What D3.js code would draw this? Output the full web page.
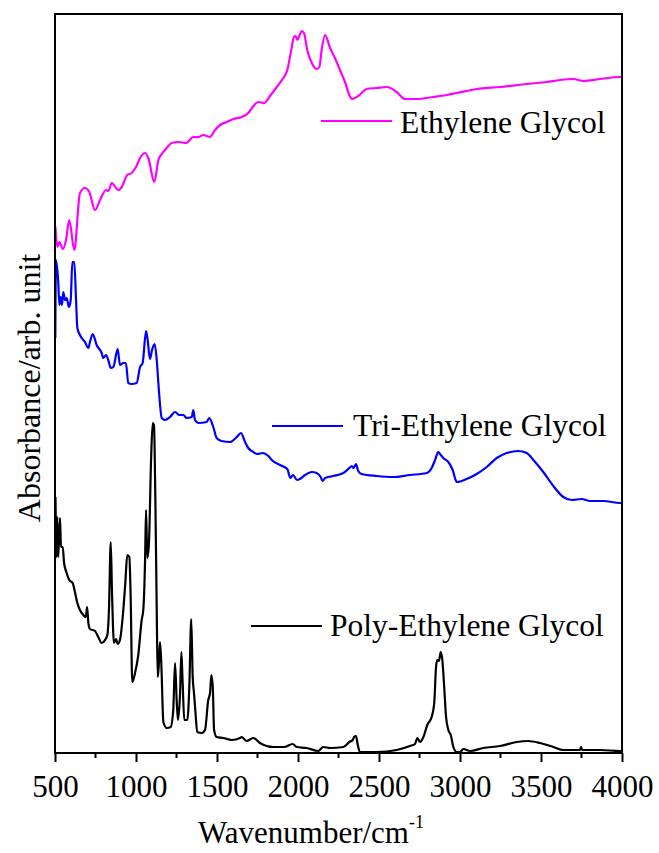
<!DOCTYPE html>
<html>
<head>
<meta charset="utf-8">
<script src="https://cdn.jsdelivr.net/npm/d3@7"></script>
<style>
  body { margin: 0; background: #fff; }
  svg { display: block; }
  text { font-family: "Liberation Serif", "Times New Roman", serif; fill: #000; }
</style>
</head>
<body>
<div id="chart"></div>
<script>
// FTIR spectra, [wavenumber cm^-1, absorbance arb. unit]
const egData = [
  [503, 526], [514, 506], [527, 511], [548, 504], [568, 513], [588, 533], [619, 503],
  [654, 560], [685, 565], [712, 561], [747, 543], [778, 553], [815, 563], [829, 562],
  [850, 570], [891, 563], [912, 566], [946, 578], [973, 580], [1000, 586], [1025, 595],
  [1056, 600], [1076, 595], [1113, 571], [1138, 593], [1159, 599], [1190, 605], [1220, 610],
  [1261, 611], [1309, 610], [1354, 616], [1385, 616], [1415, 618], [1457, 616], [1488, 623],
  [1519, 628], [1560, 631], [1601, 634], [1653, 636], [1693, 640], [1720, 646], [1755, 651],
  [1792, 650], [1827, 657], [1869, 666], [1909, 675], [1934, 683], [1955, 700], [1975, 716],
  [1986, 717], [1996, 713], [2008, 717], [2023, 722], [2037, 720], [2057, 703], [2085, 690],
  [2115, 684], [2132, 686], [2146, 703], [2167, 718], [2198, 705], [2228, 695], [2259, 683],
  [2290, 671], [2317, 658], [2332, 654], [2372, 657], [2424, 664], [2486, 665], [2548, 666],
  [2609, 661], [2661, 654], [2733, 654], [2835, 656], [2918, 658], [2980, 660], [3103, 664],
  [3247, 666], [3412, 669], [3535, 671], [3617, 673], [3700, 674], [3761, 672], [3864, 674],
  [3983, 676], [4000, 676]
];

const tegData = [
  [502, 415], [506, 493], [520, 471], [527, 448], [535, 456], [543, 448], [551, 461],
  [562, 453], [572, 455], [586, 446], [597, 453], [607, 491], [619, 491], [630, 453],
  [638, 425], [654, 418], [685, 411], [706, 405], [716, 411], [733, 419], [757, 408],
  [788, 400], [798, 395], [815, 398], [829, 393], [844, 385], [860, 386], [887, 404],
  [901, 388], [922, 390], [938, 390], [952, 370], [973, 369], [1004, 370], [1025, 386],
  [1041, 390], [1062, 422], [1072, 413], [1086, 394], [1099, 403], [1115, 409], [1128, 393],
  [1138, 370], [1159, 335], [1179, 333], [1210, 336], [1241, 341], [1267, 338], [1292, 338],
  [1313, 335], [1344, 336], [1354, 343], [1364, 333], [1385, 330], [1436, 331], [1452, 335],
  [1477, 326], [1498, 315], [1529, 312], [1580, 311], [1622, 316], [1648, 320], [1673, 311],
  [1693, 305], [1724, 301], [1749, 299], [1782, 300], [1817, 297], [1838, 293], [1889, 288],
  [1934, 284], [1953, 275], [1969, 278], [1994, 273], [2012, 274], [2043, 278], [2085, 281],
  [2115, 280], [2140, 276], [2152, 272], [2167, 275], [2218, 277], [2280, 280], [2317, 285],
  [2332, 287], [2342, 285], [2358, 289], [2372, 282], [2393, 279], [2486, 277], [2588, 276],
  [2691, 278], [2795, 280], [2825, 285], [2846, 293], [2866, 301], [2881, 298], [2897, 295],
  [2928, 291], [2955, 283], [2980, 271], [3041, 274], [3103, 279], [3165, 286], [3227, 295],
  [3288, 300], [3360, 302], [3412, 300], [3453, 293], [3514, 281], [3576, 267], [3638, 256],
  [3690, 253], [3751, 254], [3803, 252], [3885, 252], [3988, 250], [4000, 250]
];

const pegData = [
  [503, 256], [510, 196], [514, 236], [520, 196], [531, 235], [537, 206], [548, 206],
  [556, 190], [572, 180], [588, 173], [609, 170], [623, 161], [638, 150], [654, 143],
  [675, 138], [690, 136], [698, 146], [706, 130], [716, 124], [747, 122], [767, 116],
  [788, 110], [809, 113], [823, 118], [833, 143], [844, 211], [852, 160], [864, 110],
  [877, 114], [887, 109], [901, 113], [918, 136], [934, 170], [946, 198], [959, 196],
  [967, 156], [977, 71], [994, 80], [1014, 98], [1035, 133], [1045, 143], [1056, 193],
  [1062, 243], [1070, 195], [1080, 210], [1093, 293], [1103, 330], [1111, 328], [1119, 260],
  [1128, 143], [1134, 76], [1140, 86], [1148, 111], [1156, 90], [1169, 31], [1190, 25],
  [1214, 26], [1230, 43], [1241, 90], [1251, 53], [1259, 33], [1272, 60], [1280, 101],
  [1288, 70], [1298, 33], [1317, 33], [1329, 66], [1341, 134], [1350, 76], [1358, 60],
  [1366, 43], [1378, 21], [1406, 20], [1426, 23], [1446, 53], [1457, 60], [1465, 78],
  [1474, 66], [1482, 23], [1498, 16], [1539, 15], [1591, 13], [1642, 15], [1652, 16],
  [1683, 12], [1724, 15], [1765, 10], [1848, 6], [1915, 6], [1967, 9], [1992, 6],
  [2054, 5], [2125, 2], [2156, 6], [2198, 5], [2280, 6], [2317, 11], [2338, 13],
  [2346, 16], [2358, 17], [2369, 8], [2383, 1], [2486, 1], [2609, 3], [2691, 7],
  [2722, 9], [2737, 15], [2753, 11], [2774, 16], [2798, 28], [2825, 36], [2841, 50],
  [2852, 86], [2860, 93], [2870, 92], [2881, 101], [2891, 93], [2901, 70], [2914, 36],
  [2928, 23], [2943, 18], [2959, 6], [2980, 1], [3000, 1], [3021, 4], [3062, 2],
  [3144, 5], [3247, 7], [3350, 11], [3422, 12], [3494, 10], [3576, 6], [3638, 3],
  [3741, 3], [3747, 6], [3755, 3], [3864, 3], [3988, 2], [4000, 2]
];

const seriesNames = ["Ethylene Glycol", "Tri-Ethylene Glycol", "Poly-Ethylene Glycol"];
const xMajorTicks = [500, 1000, 1500, 2000, 2500, 3000, 3500, 4000];
const xMinorTicks = [750, 1250, 1750, 2250, 2750, 3250, 3750];

const series = [
  {name: seriesNames[0], values: egData, color: "#ff00ff", legend: [321, 121, 400, 133]},
  {name: seriesNames[1], values: tegData, color: "#0000ff", legend: [272, 426, 353, 436]},
  {name: seriesNames[2], values: pegData, color: "#000000", legend: [251, 626, 330, 636]}
];

const W = 659, H = 853;
const m = {left: 55, right: 622, top: 14, bottom: 753};

const x = d3.scaleLinear().domain([500, 4000]).range([m.left, m.right]);
const y = d3.scaleLinear().domain([0, 739]).range([m.bottom, m.top]);

const svg = d3.select("#chart").append("svg")
    .attr("width", W)
    .attr("height", H);

svg.append("defs").append("clipPath")
    .attr("id", "plotclip")
  .append("rect")
    .attr("x", m.left)
    .attr("y", m.top)
    .attr("width", m.right - m.left)
    .attr("height", m.bottom - m.top);

// monotone keeps the peaks on the read points but rounds the corners
const line = d3.line()
    .curve(d3.curveMonotoneX)
    .x(d => x(d[0]))
    .y(d => y(d[1]));

svg.append("g")
    .attr("clip-path", "url(#plotclip)")
    .selectAll("path")
    .data(series)
    .enter()
    .append("path")
        .attr("d", d => line(d.values))
        .attr("fill", "none")
        .attr("stroke", d => d.color)
        .attr("stroke-width", 2.2)
        .attr("stroke-linejoin", "round");

// frame
svg.append("rect")
    .attr("x", m.left)
    .attr("y", m.top)
    .attr("width", m.right - m.left)
    .attr("height", m.bottom - m.top)
    .attr("fill", "none")
    .attr("stroke", "#000")
    .attr("stroke-width", 2);

// bottom axis, ticks pointing out
const xAxis = svg.append("g")
    .attr("transform", `translate(0,${m.bottom})`)
    .call(d3.axisBottom(x)
        .tickValues(xMajorTicks)
        .tickSize(9)
        .tickSizeOuter(0)
        .tickPadding(13)
        .tickFormat(d3.format("d")));
xAxis.select(".domain").remove();
xAxis.selectAll("line").attr("stroke-width", 2);
xAxis.selectAll("text")
    .attr("font-family", "Liberation Serif, serif")
    .attr("font-size", "31px");

svg.append("g")
    .attr("transform", `translate(0,${m.bottom})`)
    .selectAll("line")
    .data(xMinorTicks)
    .enter()
    .append("line")
        .attr("x1", d => x(d))
        .attr("x2", d => x(d))
        .attr("y1", 0)
        .attr("y2", 5)
        .attr("stroke", "#000")
        .attr("stroke-width", 2);

// axis titles
const xt = svg.append("text")
    .attr("x", 198)
    .attr("y", 843)
    .attr("font-size", "31px");
xt.append("tspan").text("Wavenumber/cm");
xt.append("tspan")
    .attr("font-size", "18px")
    .attr("dy", -15)
    .text("-1");

svg.append("text")
    .attr("transform", "translate(40,388) rotate(-90)")
    .attr("text-anchor", "middle")
    .attr("font-size", "32px")
    .text("Absorbance/arb. unit");

// legend
const leg = svg.append("g")
    .selectAll("g")
    .data(series)
    .enter()
    .append("g");

leg.append("line")
    .attr("x1", d => d.legend[0])
    .attr("x2", d => d.legend[0] + 71)
    .attr("y1", d => d.legend[1])
    .attr("y2", d => d.legend[1])
    .attr("stroke", d => d.color)
    .attr("stroke-width", 2);

leg.append("text")
    .attr("x", d => d.legend[2])
    .attr("y", d => d.legend[3])
    .attr("font-size", "31.5px")
    .text(d => d.name);
</script>
</body>
</html>
